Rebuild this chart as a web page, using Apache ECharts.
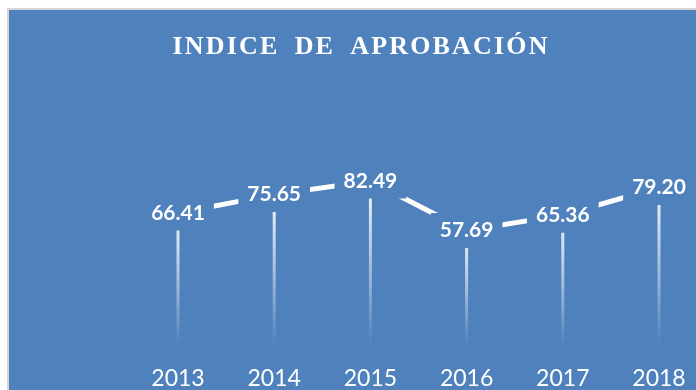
<!DOCTYPE html>
<html>
<head>
<meta charset="utf-8">
<script src="https://cdn.jsdelivr.net/npm/echarts@6/dist/echarts.min.js"></script>
<style>
  html, body { margin: 0; padding: 0; background: #ffffff; }
  #chart { width: 696px; height: 390px; }
</style>
</head>
<body>
<div id="chart"></div>
<script>
// Approval index by year
const years = ['2013', '2014', '2015', '2016', '2017', '2018'];
const approval = [66.41, 75.65, 82.49, 57.69, 65.36, 79.20];
const titleText = 'INDICE DE APROBACIÓN';

const panelBlue = '#4F81BD';
// spaced-out caps for the heading: hair spaces between letters, wider gaps between words
const HAIR = '\u200A';
const spacedTitle = titleText
  .split(' ')
  .map(word => Array.from(word).join(HAIR))
  .join(HAIR + '  ' + HAIR);

const chart = echarts.init(document.getElementById('chart'), null, { renderer: 'canvas' });

chart.setOption({
  backgroundColor: '#ffffff',
  animation: false,
  graphic: [
    { type: 'rect', z: -10, silent: true, shape: { x: 7, y: 8, width: 700, height: 400 }, style: { fill: '#d6d6d6' } },
    { type: 'rect', z: -9, silent: true, shape: { x: 9, y: 10, width: 700, height: 400 }, style: { fill: panelBlue } }
  ],
  title: {
    text: spacedTitle,
    left: 355,
    textAlign: 'center',
    top: 29,
    textStyle: {
      color: '#ffffff',
      fontFamily: '"Liberation Serif", "Times New Roman", serif',
      fontWeight: 'bold',
      fontSize: 26
    }
  },
  grid: { left: 178, right: 37, top: 146, bottom: 44.4 },
  xAxis: {
    type: 'category',
    data: years,
    boundaryGap: false,
    axisLine: { show: false },
    axisTick: { show: false },
    splitLine: { show: false },
    axisLabel: {
      color: '#ffffff',
      fontFamily: 'Lato, "Open Sans", sans-serif',
      fontSize: 23,
      margin: 21
    }
  },
  yAxis: {
    type: 'value',
    min: 0,
    max: 100,
    show: false
  },
  series: [
    {
      // fading drop lines under each point
      type: 'bar',
      data: approval,
      barWidth: 3,
      z: 1,
      silent: true,
      itemStyle: {
        color: new echarts.graphic.LinearGradient(0, 0, 0, 1, [
          { offset: 0, color: 'rgba(255,255,255,0.95)' },
          { offset: 0.55, color: 'rgba(255,255,255,0.45)' },
          { offset: 1, color: 'rgba(255,255,255,0.0)' }
        ])
      }
    },
    {
      type: 'line',
      data: approval,
      z: 3,
      symbol: 'circle',
      symbolSize: 2,
      itemStyle: { color: '#ffffff' },
      lineStyle: { color: '#ffffff', width: 5, cap: 'butt' },
      label: {
        show: true,
        position: 'inside',
        formatter: p => p.value.toFixed(2),
        color: '#ffffff',
        fontFamily: 'Lato, "Open Sans", sans-serif',
        fontWeight: 'bold',
        fontSize: 21,
        lineHeight: 21,
        backgroundColor: panelBlue,
        padding: [7, 9]
      }
    }
  ]
});
</script>
</body>
</html>
